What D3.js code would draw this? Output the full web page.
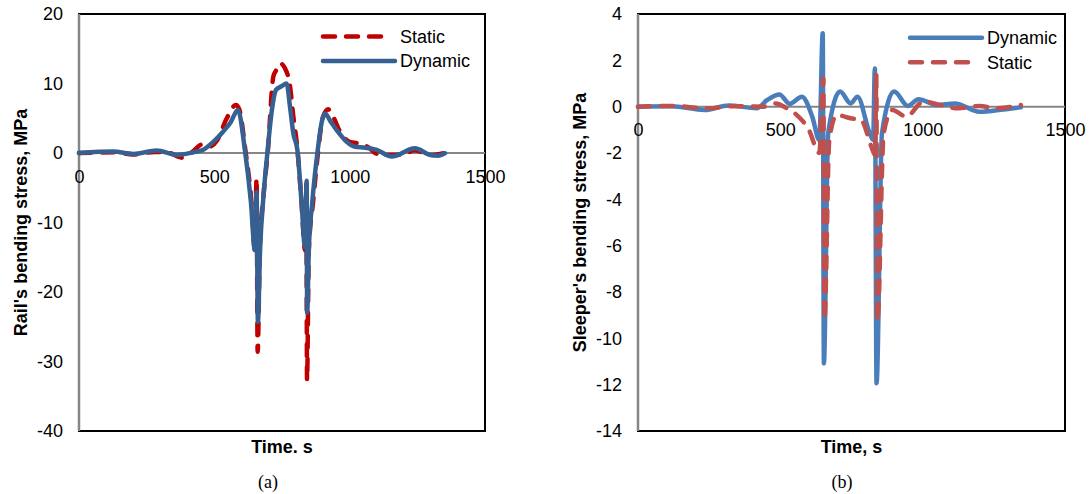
<!doctype html>
<html lang="en">
<head>
<meta charset="utf-8">
<script src="https://cdn.jsdelivr.net/npm/d3@7"></script>
<style type="text/css">
body {
    margin: 0;
    background: #ffffff;
}
svg text {
    font-family: "Liberation Sans", Arial, sans-serif;
    fill: #000000;
}
svg .caption {
    font-family: "Liberation Serif", "Times New Roman", serif;
}
</style>
</head>
<body>
<svg id="chart" width="1089" height="494"></svg>

<script>
// values

// (a) rail
var railTicksY = [-40, -30, -20, -10, 0, 10, 20];
var railStaticTime = [0, 130, 200, 280, 330, 379, 420, 453, 480, 510, 546, 580, 592, 615, 637, 650, 656, 660, 668, 682, 698, 718, 730, 743, 761, 780, 792, 806, 822, 835, 840, 842.5, 849, 865, 884, 900, 920, 938, 964, 1001, 1032, 1070, 1100, 1143, 1200, 1240, 1300, 1350];
var railStatic = [0, 0.1, -0.2, 0.15, 0.05, -0.67, 0.2, 1.2, 0.9, 1.8, 5.0, 6.9, 6.3, 0.3, -7, -14, -3.6, -28.6, -14, -6, 0.4, 11, 12, 12.9, 12.2, 9.5, 5.2, 0.9, -7, -14, -4.5, -32.7, -14, -7, 0.4, 5, 6.3, 5.3, 3.1, 1.6, 1.4, 0.8, -0.1, -0.3, -0.2, 0.4, -0.3, 0];
var railDynamicTime = [0, 127, 201, 287, 361, 422, 459, 496, 533, 560, 587, 613, 635, 650, 656, 661, 669, 682, 697, 712, 728, 748, 767, 780, 792, 807, 822, 835, 841, 843, 849, 862, 882, 897, 909, 930, 952, 989, 1020, 1057, 1100, 1155, 1241, 1300, 1328, 1352];
var railDynamic = [0, 0.2, -0.14, 0.36, -0.27, 0.1, 0.48, 1.6, 3.1, 4.4, 6.2, 0.4, -7, -14, -5.6, -24.3, -14, -6, 0.4, 6, 9.1, 9.6, 10, 6.5, 2.8, 0.4, -7, -13.5, -4, -23, -14, -7, 0.4, 4.5, 5.7, 4.5, 3.3, 1.6, 0.9, 0.77, 0.45, -0.5, 0.67, -0.3, -0.38, -0.05];

// (b) sleeper
var sleeperTicksY = [-14, -12, -10, -8, -6, -4, -2, 0, 2, 4];
var sleeperDynamicTime = [0, 117, 234, 319, 417, 454, 497, 533, 576, 612, 637, 649, 653, 668, 710, 747, 771, 814, 826, 832, 838, 857, 900, 948, 985, 1052, 1113, 1199, 1284, 1345];
var sleeperDynamic = [0, 0.02, -0.14, 0.05, -0.07, 0.29, 0.53, 0.12, 0.43, -0.43, -1.44, 3.17, -11.08, -1.15, 0.65, 0.14, 0.43, -1.15, -1.44, 1.65, -11.94, -1.15, 0.65, 0.03, 0.32, 0.07, 0.14, -0.22, -0.12, -0.03];
var sleeperStaticTime = [0, 120, 246, 330, 442, 484, 520, 551, 600, 637, 651, 655, 672, 698, 747, 784, 820, 833, 837, 841, 863, 894, 942, 1003, 1064, 1125, 1199, 1260, 1345];
var sleeperStatic = [0, 0.03, -0.07, 0.02, 0, 0.14, -0.05, -0.29, -1.0, -2.0, 1.22, -9.2, -1.44, -0.36, -0.5, -0.58, -1.73, -2.09, 1.37, -9.28, -1.15, -0.14, -0.43, 0.22, 0.07, -0.07, 0.03, -0.07, 0.07];

var timeTicks = [0, 500, 1000, 1500];

var svg = d3.select('#chart');

function zip(ts, vs) {
    return ts.map(function(t, i) { return [t, vs[i]]; });
}

// plain numbers, hyphen minus, no thousands separator (Excel style)
function plain(d) { return String(d); }

function drawPanel(opt) {
    var x = d3.scaleLinear().domain([0, 1500]).range([opt.left, opt.right]);
    var y = d3.scaleLinear().domain(opt.yDomain).range([431, 14]);
    var g = svg.append('g');

    // plot frame
    g.append('rect')
        .attr('x', opt.left).attr('y', 14)
        .attr('width', opt.right - opt.left).attr('height', 417)
        .attr('fill', 'none').attr('stroke', '#000000').attr('stroke-width', 2);

    // left axis line + zero line
    g.append('line')
        .attr('x1', opt.left).attr('x2', opt.left).attr('y1', 14).attr('y2', 431)
        .attr('stroke', '#868686').attr('stroke-width', 2.5);
    g.append('line')
        .attr('x1', opt.left).attr('x2', opt.right).attr('y1', y(0)).attr('y2', y(0))
        .attr('stroke', '#868686').attr('stroke-width', 2);

    var ya = g.append('g')
        .attr('transform', 'translate(' + opt.left + ',0)')
        .call(d3.axisLeft(y).tickValues(opt.ticksY).tickFormat(plain).tickSize(0).tickPadding(16));
    var xa = g.append('g')
        .attr('transform', 'translate(0,' + y(0) + ')')
        .call(d3.axisBottom(x).tickValues(timeTicks).tickFormat(plain).tickSize(0).tickPadding(17));
    [ya, xa].forEach(function(a) {
        a.select('.domain').remove();
        a.selectAll('text').attr('font-size', 18)
            .style('font-family', '"Liberation Sans", Arial, sans-serif')
            .attr('fill', '#000000');
    });

    var line = d3.line()
        .x(function(d) { return x(d[0]); })
        .y(function(d) { return y(d[1]); })
        .curve(d3.curveMonotoneX);

    opt.series.forEach(function(s) {
        g.append('path')
            .datum(zip(s.time, s.values))
            .attr('d', line)
            .attr('fill', 'none')
            .attr('stroke', s.color)
            .attr('stroke-width', 4.5)
            .attr('stroke-linecap', 'round')
            .attr('stroke-linejoin', 'round')
            .attr('stroke-dasharray', s.dashed ? '12,11' : null);
    });

    // legend
    opt.legend.forEach(function(s, i) {
        var ly = opt.legendY + i * 24.5;
        g.append('line')
            .attr('x1', opt.legendX).attr('x2', opt.legendX + (s.dashed ? 63 : 72))
            .attr('y1', ly).attr('y2', ly)
            .attr('stroke', s.color).attr('stroke-width', 4.5)
            .attr('stroke-linecap', 'round')
            .attr('stroke-dasharray', s.dashed ? '12,11' : null);
        g.append('text')
            .attr('x', opt.legendX + 77).attr('y', ly)
            .attr('dy', '0.35em')
            .attr('font-size', 18)
            .text(s.name);
    });

    // axis titles
    g.append('text')
        .attr('transform', 'translate(' + opt.titleYX + ',222.5) rotate(-90)')
        .attr('text-anchor', 'middle').attr('dy', '0.35em')
        .attr('font-size', 18).attr('font-weight', 'bold')
        .text(opt.yTitle);
    g.append('text')
        .attr('x', (opt.left + opt.right) / 2).attr('y', 446.7)
        .attr('text-anchor', 'middle').attr('dy', '0.35em')
        .attr('font-size', 18).attr('font-weight', 'bold')
        .text(opt.xTitle);
    g.append('text')
        .attr('class', 'caption')
        .attr('x', opt.captionX).attr('y', 481.7)
        .attr('text-anchor', 'middle').attr('dy', '0.35em')
        .attr('font-size', 18)
        .text(opt.caption);
}

var railStaticS = {name: 'Static', time: railStaticTime, values: railStatic, color: '#C00000', dashed: true};
var railDynamicS = {name: 'Dynamic', time: railDynamicTime, values: railDynamic, color: '#376092', dashed: false};
drawPanel({
    left: 79, right: 485,
    yDomain: [-40, 20], ticksY: railTicksY,
    series: [railStaticS, railDynamicS],
    legend: [railStaticS, railDynamicS],
    legendX: 323, legendY: 36.5,
    titleYX: 21, yTitle: "Rail's bending stress, MPa",
    xTitle: 'Time. s',
    captionX: 268, caption: '(a)'
});

var sleeperDynamicS = {name: 'Dynamic', time: sleeperDynamicTime, values: sleeperDynamic, color: '#4A7EBB', dashed: false};
var sleeperStaticS = {name: 'Static', time: sleeperStaticTime, values: sleeperStatic, color: '#C0504D', dashed: true};
drawPanel({
    left: 638, right: 1065,
    yDomain: [-14, 4], ticksY: sleeperTicksY,
    series: [sleeperDynamicS, sleeperStaticS],
    legend: [sleeperDynamicS, sleeperStaticS],
    legendX: 910, legendY: 37.7,
    titleYX: 580, yTitle: "Sleeper's bending stress, MPa",
    xTitle: 'Time, s',
    captionX: 842, caption: '(b)'
});
</script>
</body>
</html>
